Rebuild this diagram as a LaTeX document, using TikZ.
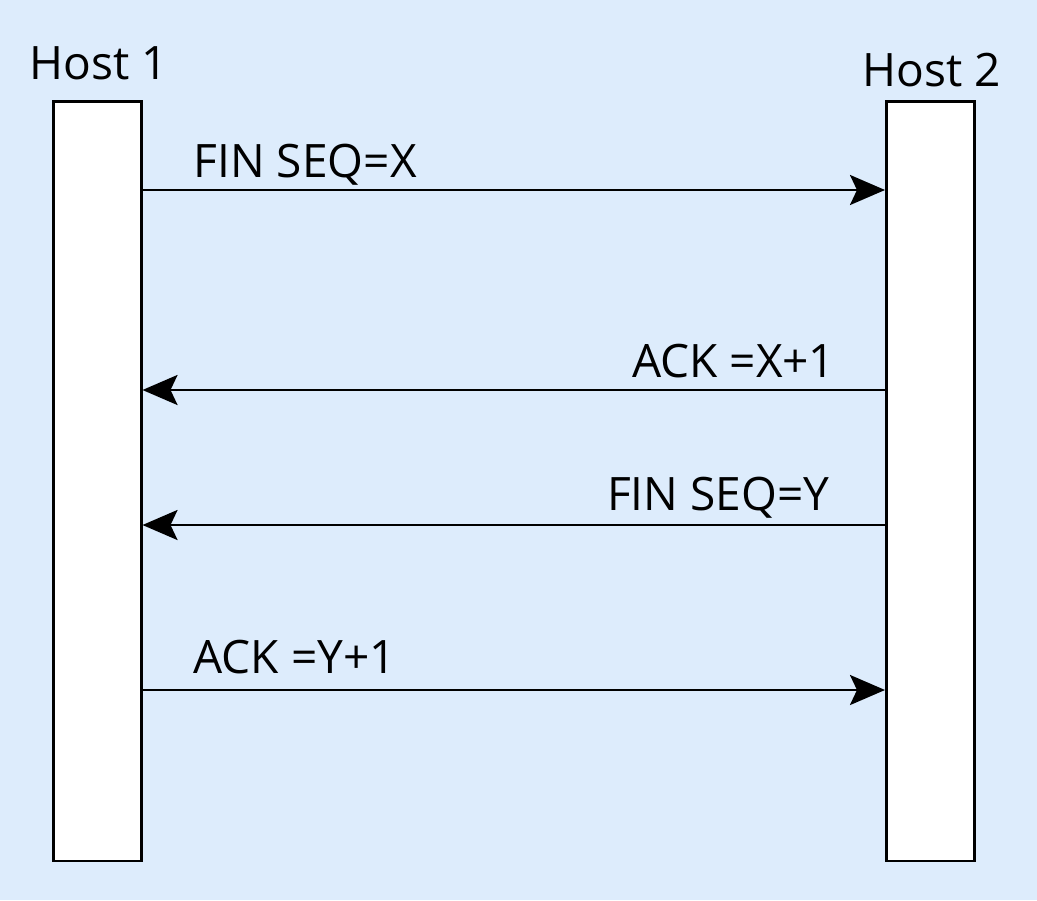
\documentclass[tikz,border=0pt]{standalone}
\usepackage{fontspec}
\setmainfont{Open Sans}
\usetikzlibrary{arrows.meta, calc}

\definecolor{bgblue}{RGB}{221,236,252}

\tikzset{
	hostbox/.style={draw=black, line width=0.25mm, fill=white, minimum width=0.88cm, minimum height=7.59cm, inner sep=0},
	msg/.style={line width=0.28mm, -{Stealth[length=3.5mm, width=3.0mm, inset=0.7mm]}},
	lbl/.style={inner sep=0, font=\fontsize{13.1}{16}\selectfont}
}

\begin{document}
\begin{tikzpicture}

	% background
	\fill[bgblue] (0,0) rectangle (10.37,9);
	\useasboundingbox (0,0) rectangle (10.37,9);

	% hosts
	\node[hostbox, anchor=south west] (h1) at (0.52,0.38) {};
	\node[hostbox, anchor=south west] (h2) at (8.85,0.38) {};
	\node[lbl, anchor=base] (h1lbl) at (0.99,8.20) {Host 1};
	\node[lbl, anchor=base] (h2lbl) at (9.32,8.13) {Host 2};

	% message levels
	\coordinate (m1) at (0,7.10);
	\coordinate (m2) at (0,5.10);
	\coordinate (m3) at (0,3.75);
	\coordinate (m4) at (0,2.10);

	% messages
	\draw[msg] (h1.east |- m1) -- (h2.west |- m1);
	\node[lbl, anchor=base west] (fin1) at (1.93,7.23) {FIN SEQ=X};
	\draw[msg] (h2.west |- m2) -- (h1.east |- m2);
	\node[lbl, anchor=base east] (ack1) at (8.36,5.23) {ACK =X+1};
	\draw[msg] (h2.west |- m3) -- (h1.east |- m3);
	\node[lbl, anchor=base east] (fin2) at (8.30,3.90) {FIN SEQ=Y};
	\draw[msg] (h1.east |- m4) -- (h2.west |- m4);
	\node[lbl, anchor=base west] (ack2) at (1.93,2.27) {ACK =Y+1};

\end{tikzpicture}
\end{document}
